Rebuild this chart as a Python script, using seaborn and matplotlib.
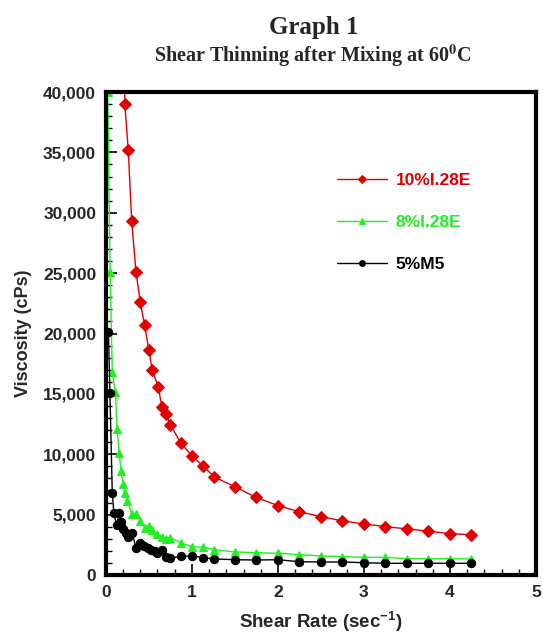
import pandas as pd
import seaborn as sns
import matplotlib.pyplot as plt
from matplotlib.ticker import MultipleLocator, FuncFormatter

# 10%I.28E
rate_10 = [0.21, 0.22, 0.26, 0.30, 0.35, 0.40, 0.45, 0.50, 0.54, 0.61, 0.65, 0.70, 0.75,
           0.87, 1.00, 1.13, 1.26, 1.50, 1.75, 2.00, 2.25, 2.50, 2.75, 3.00, 3.25, 3.50,
           3.75, 4.00, 4.25]
visc_10 = [46000, 39000, 35200, 29300, 25100, 22600, 20700, 18600, 16950, 15550, 13950,
           13300, 12450, 10950, 9880, 9020, 8130, 7300, 6420, 5750, 5240, 4840, 4480,
           4230, 4010, 3820, 3630, 3430, 3340]

# 8%I.28E
rate_8 = [0.02, 0.05, 0.074, 0.11, 0.13, 0.155, 0.175, 0.20, 0.22, 0.25, 0.30, 0.35, 0.40,
          0.45, 0.50, 0.54, 0.60, 0.65, 0.70, 0.75, 0.87, 1.00, 1.13, 1.26, 1.50, 1.75,
          2.00, 2.25, 2.50, 2.75, 3.00, 3.25, 3.50, 3.75, 4.00, 4.25]
visc_8 = [40000, 25100, 16800, 15150, 12100, 10100, 8650, 7550, 6780, 6140, 5090, 5090,
          4480, 3930, 4100, 3710, 3430, 3180, 2960, 3100, 2680, 2350, 2320, 2100, 1910,
          1850, 1800, 1690, 1580, 1520, 1470, 1470, 1350, 1350, 1350, 1330]

# 5%M5
rate_5 = [0.03, 0.047, 0.074, 0.093, 0.124, 0.151, 0.174, 0.20, 0.233, 0.26, 0.306, 0.35,
          0.40, 0.446, 0.49, 0.53, 0.566, 0.60, 0.647, 0.70, 0.75, 0.87, 1.00, 1.13, 1.26,
          1.50, 1.75, 2.00, 2.25, 2.50, 2.75, 3.00, 3.25, 3.50, 3.75, 4.00, 4.25]
visc_5 = [20100, 15100, 6830, 5120, 4150, 5120, 4370, 3820, 3460, 3130, 3490, 2270, 2680,
          2410, 2220, 2070, 1970, 1850, 2070, 1520, 1410, 1550, 1580, 1440, 1330, 1270,
          1240, 1270, 1100, 1080, 1080, 1020, 970, 970, 970, 970, 970]

series = [
    ("10%I.28E", rate_10, visc_10, "#e00000", "D", 6.5),
    ("8%I.28E", rate_8, visc_8, "#22ee22", "^", 6),
    ("5%M5", rate_5, visc_5, "black", "o", 6),
]

sns.set_style("white")
plt.rcParams["font.family"] = ["Liberation Sans", "DejaVu Sans"]
plt.rcParams["mathtext.fontset"] = "custom"
plt.rcParams["mathtext.rm"] = "Liberation Sans:bold"
plt.rcParams["mathtext.bf"] = "Liberation Sans:bold"

fig = plt.figure(figsize=(5.43, 6.33), dpi=100)
ax = fig.add_axes([0.195, 0.0916, 0.792, 0.763])

for name, x, y, color, marker, ms in series:
    df = pd.DataFrame({"rate": x, "visc": y})
    sns.lineplot(data=df, x="rate", y="visc", ax=ax, color=color, marker=marker,
                 markersize=ms, markeredgecolor=color, linewidth=1, sort=False,
                 estimator=None, label=name)

ax.set_xlim(0, 5)
ax.set_ylim(0, 40000)
ax.xaxis.set_major_locator(MultipleLocator(1))
ax.xaxis.set_minor_locator(MultipleLocator(0.2))
ax.yaxis.set_major_locator(MultipleLocator(5000))
ax.yaxis.set_minor_locator(MultipleLocator(1000))
ax.yaxis.set_major_formatter(FuncFormatter(lambda v, p: f"{v:,.0f}"))
ax.tick_params(which="major", direction="in", length=8, width=1.2, color="black",
               labelsize=12.5, pad=7, bottom=True, left=True)
ax.tick_params(which="minor", direction="in", length=4, width=1, color="black",
               bottom=True, left=True)
for lab in ax.get_xticklabels() + ax.get_yticklabels():
    lab.set_fontweight("bold")

for sp in ax.spines.values():
    sp.set_visible(True)
    sp.set_color("black")
    sp.set_linewidth(3)

ax.set_xlabel("Shear Rate (sec$^{-1}$)", fontsize=13.5, fontweight="bold", labelpad=7)
ax.set_ylabel("Viscosity (cPs)", fontsize=13, fontweight="bold", labelpad=8)

leg = ax.legend(loc="upper left", bbox_to_anchor=(0.5, 0.865), frameon=False,
                fontsize=12.5, handlelength=2.9, labelspacing=1.55, markerscale=0.7,
                labelcolor="linecolor", handletextpad=0.5)
for t in leg.get_texts():
    t.set_fontweight("bold")

fig.text(0.577, 0.947, "Graph 1", ha="center", fontsize=18, fontweight="bold",
         family="Liberation Serif")
fig.text(0.577, 0.903, "Shear Thinning after Mixing at 60$^{\\mathbf{0}}$C", ha="center",
         fontsize=14.5, fontweight="bold", family="Liberation Serif",
         math_fontfamily="stix")

fig.savefig("out.png", dpi=100)
